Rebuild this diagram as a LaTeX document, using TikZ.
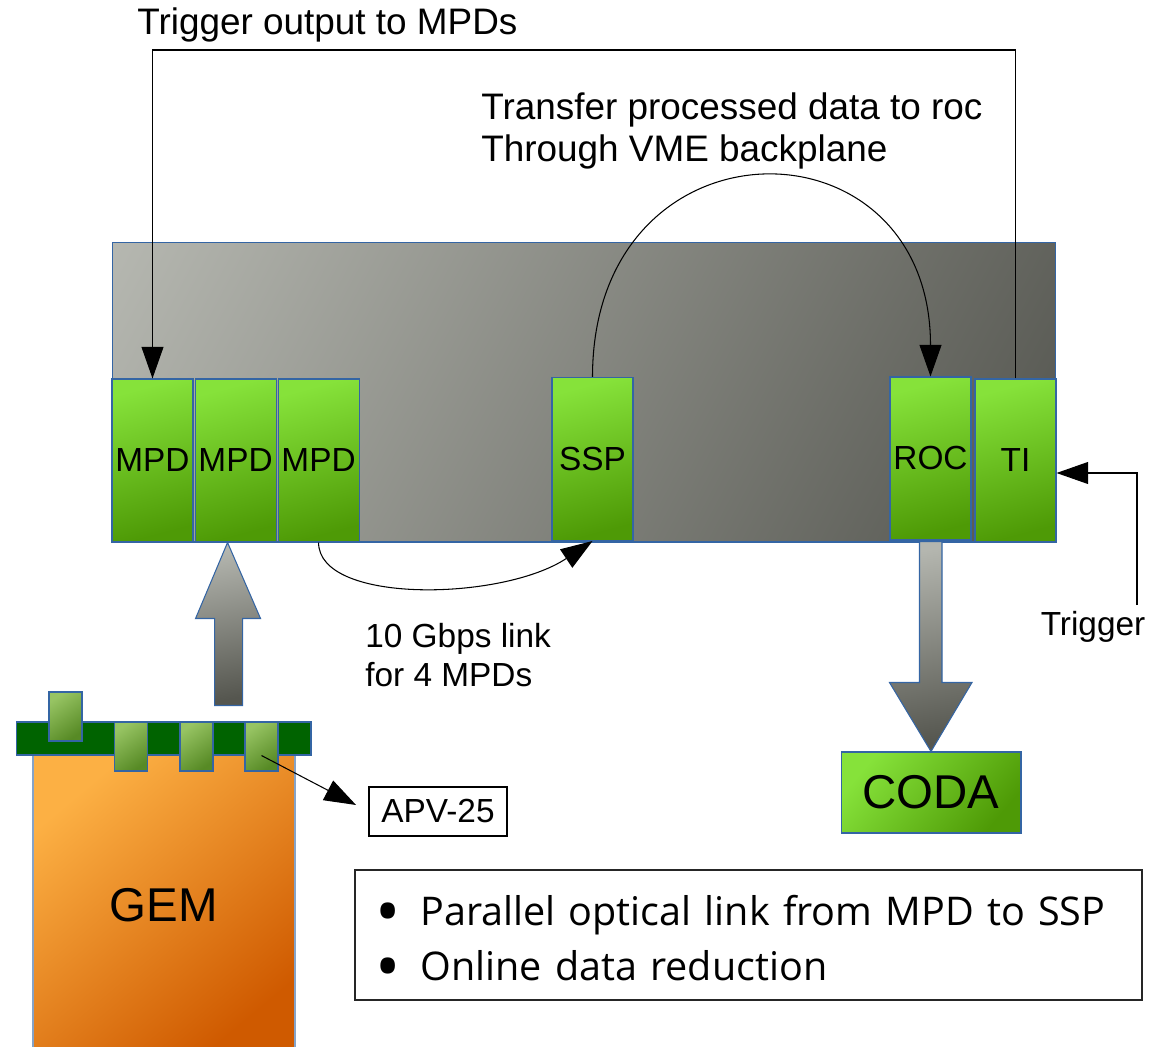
\documentclass[tikz,border=0pt]{standalone}
\usepackage{fontspec}
\setmainfont{Liberation Sans}
\newfontfamily\notefont{Open Sans}
\usetikzlibrary{arrows.meta, positioning}
\definecolor{boxline}{HTML}{3465A4}
\definecolor{cratehi}{HTML}{B4B6AF}
\definecolor{cratelo}{HTML}{55564F}
\definecolor{cratepale}{HTML}{CDCFC8}
\definecolor{cratedeep}{HTML}{3C3D37}
\definecolor{greenhi}{HTML}{86E23A}
\definecolor{greenlo}{HTML}{4E9A06}
\definecolor{gemhi}{HTML}{FCB044}
\definecolor{gemlo}{HTML}{CF5A00}
\definecolor{chiphi}{HTML}{97C463}
\definecolor{chiplo}{HTML}{578A25}
\definecolor{bargreen}{HTML}{006300}
\pgfdeclareverticalshading{cratefade}{100bp}{color(0bp)=(cratedeep); color(100bp)=(cratepale)}
\tikzstyle{crate} = [rectangle, draw=boxline, line width=0.6pt, minimum width=18.88cm, minimum height=6cm, shading=cratefade, shading angle=62]
\tikzstyle{board} = [rectangle, draw=boxline, line width=0.6pt, minimum width=1.62cm, minimum height=3.26cm, inner sep=0pt, top color=greenhi, bottom color=greenlo, shading angle=15, font=\fontsize{19}{22}\selectfont]
\tikzstyle{codabox} = [rectangle, draw=boxline, line width=0.6pt, minimum width=3.6cm, minimum height=1.62cm, top color=greenhi, bottom color=greenlo, shading angle=50, font=\fontsize{27}{30}\selectfont]
\tikzstyle{gembody} = [rectangle, draw=boxline!60, line width=0.6pt, minimum width=5.24cm, minimum height=6cm, top color=gemhi, bottom color=gemlo, shading angle=40, font=\fontsize{27}{30}\selectfont]
\tikzstyle{gembar} = [rectangle, draw=boxline, line width=0.6pt, fill=bargreen, minimum width=5.9cm, minimum height=0.66cm]
\tikzstyle{chip} = [rectangle, draw=boxline, line width=0.6pt, minimum width=0.66cm, minimum height=0.98cm, inner sep=0pt, top color=chiphi, bottom color=chiplo, shading angle=35]
\tikzstyle{tag} = [rectangle, draw=black, line width=0.6pt, minimum width=2.76cm, minimum height=0.98cm, font=\fontsize{19}{22}\selectfont]
\tikzstyle{fatarrow} = [draw=boxline, line width=0.6pt, top color=cratehi, bottom color=cratelo, shading angle=10]
\tikzstyle{notebox} = [rectangle, draw=black!85, line width=1.2pt, minimum width=15.74cm, minimum height=2.6cm]
\tikzstyle{notetext} = [inner sep=0pt, text width=14.94cm, align=left, font=\notefont\fontsize{22.5}{31.3}\selectfont]
\tikzstyle{arrow} = [line width=0.6pt, -{Triangle[length=18pt, width=12.5pt]}]
\tikzstyle{bigtext} = [inner sep=0pt, font=\fontsize{21}{24}\selectfont]
\tikzstyle{smalltext} = [inner sep=0pt, font=\fontsize{19}{22}\selectfont]
\newcommand{\notebullet}{\makebox[0.9cm][l]{\raisebox{-0.5ex}{\scalebox{1.7}{\textbullet}}}}

\begin{document}
\begin{tikzpicture}[x=0.02cm, y=-0.02cm]
        \useasboundingbox (0,0) rectangle (1152,1047);
        % VME crate and its modules
        \node [crate] at (584,392) (crate) {};
        \node [board] at (152.5,460.5) (mpd1) {MPD};
        \node [board, right=0.02cm of mpd1] (mpd2) {MPD};
        \node [board, right=0.02cm of mpd2] (mpd3) {MPD};
        \node [board] at (592.5,459) (ssp) {SSP};
        \node [board] at (930.5,458.5) (roc) {ROC};
        \node [board] at (1015.5,460.5) (ti) {TI};
        % readout to CODA
        \node [codabox] at (931,792.5) (coda) {CODA};
        \draw [fatarrow] (roc.south) ++(-11,1) -- ++(0,141) -- ++(-30,0) -- (coda.north)
                -- ++(41,-69) -- ++(-30,0) -- ++(0,-141) -- cycle;
        % GEM with APV-25 cards
        \node [gembody] at (164,905) (gem) {GEM};
        \node [gembar] at (163.5,738.5) (bar) {};
        \node [chip] at (65.5,716.5) (chip1) {};
        \node [chip] at (131,746.5) (chip2) {};
        \node [chip] at (196.5,746.5) (chip3) {};
        \node [chip] at (261.5,746.5) (chip4) {};
        \node [tag] at (438,811.5) (apv) {APV-25};
        \draw [arrow, shorten >=8pt] (chip4.center |- bar.south) -- (apv.west);
        \draw [fatarrow] ([xshift=-0.16cm]mpd2.south) -- ++(-32,76) -- ++(19,0) -- ++(0,87)
                -- ++(28,0) -- ++(0,-87) -- ++(18,0) -- cycle;
        % trigger
        \coordinate (trigtop) at (0,50);
        \draw [arrow] (ti.north) |- (trigtop -| mpd1.north) -- (mpd1.north);
        \node [bigtext, anchor=base west] at (137,35) (trigout) {Trigger output to MPDs};
        \node [smalltext, anchor=base] at (1093,635) (triglbl) {Trigger};
        \coordinate (trigfoot) at (1137,605);
        \draw [arrow] (trigfoot) |- ([yshift=-0.25cm]ti.east);
        % data links
        \draw [arrow] (ssp.north) .. controls +(0,-265) and +(0,-265) .. (roc.north);
        \node [bigtext, anchor=west, align=left] at (481,131) (vmelbl) {Transfer processed data to roc\\Through VME backplane};
        \draw [arrow] (mpd3.south) .. controls +(0,62) and +(-90,60) .. (ssp.south);
        \node [smalltext, anchor=west, align=left] at (365,655) (linklbl) {10 Gbps link\\for 4 MPDs};
        % notes
        \node [notebox] at (748.5,935) (notes) {};
        \node [notetext, anchor=west] at (375,943) (notelines) {\notebullet Parallel optical link from MPD to SSP\\\notebullet Online data reduction};
\end{tikzpicture}
\end{document}
